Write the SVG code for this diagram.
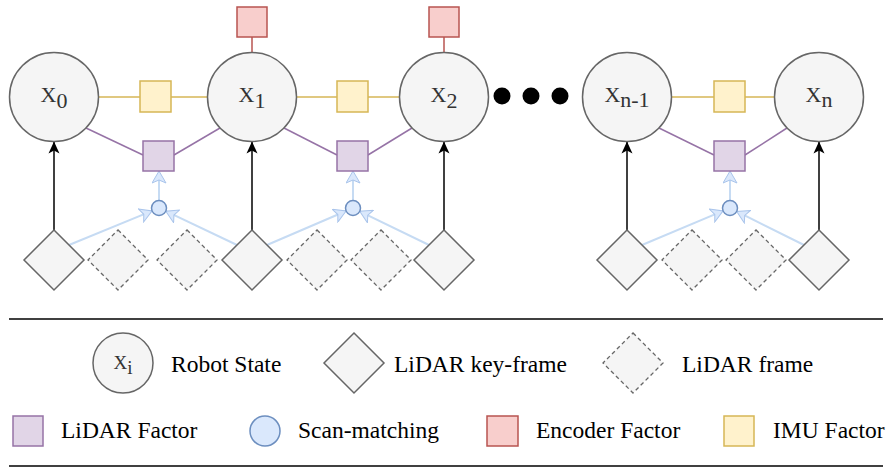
<svg xmlns="http://www.w3.org/2000/svg" width="887" height="468" viewBox="0 0 887 468">
<defs>
<style>
.state{fill:#f5f5f5;stroke:#666666;stroke-width:1.5}
.key{fill:#f5f5f5;stroke:#666666;stroke-width:1.5}
.frame{fill:#f5f5f5;stroke:#666666;stroke-width:1.3;stroke-dasharray:4 3}
.lidar{fill:#e1d5e7;stroke:#9673a6;stroke-width:1.5}
.imu{fill:#fff2cc;stroke:#d6b656;stroke-width:1.5}
.enc{fill:#f8cecc;stroke:#b85450;stroke-width:1.5}
.scan{fill:#dae8fc;stroke:#6c8ebf;stroke-width:1.5}
.lbl{font-family:"Liberation Serif","Times New Roman",serif;font-size:22px;fill:#333333;text-anchor:middle}
.leg{font-family:"Liberation Serif","Times New Roman",serif;font-size:23.5px;fill:#000000}
.blk{stroke:#000000;stroke-width:1.5;fill:none}
.blue{stroke:#c6dbf3;stroke-width:2;fill:none}
.pur{stroke:#9673a6;stroke-width:1.5;fill:none}
.yel{stroke:#d6b656;stroke-width:1.5;fill:none}
.red{stroke:#b85450;stroke-width:1.5;fill:none}
.sep{stroke:#000000;stroke-width:1.5}
</style>
<marker id="ah" markerUnits="userSpaceOnUse" viewBox="0 0 12 12" refX="12" refY="6" markerWidth="12" markerHeight="12" orient="auto">
<path d="M0,0.5 L12,6 L0,11.5 L3,6 Z" fill="#000000"/>
</marker>
<marker id="bh" markerUnits="userSpaceOnUse" viewBox="0 0 13 15" refX="12.5" refY="7.5" markerWidth="13" markerHeight="15" orient="auto">
<path d="M0.5,0.5 L12.5,7.5 L0.5,14.5 L3.5,7.5 Z" fill="#dae8fc" stroke="#a9c4eb" stroke-width="1"/>
</marker>
</defs>
<rect width="887" height="468" fill="#ffffff"/>

<g id="connectors">
<line class="yel" x1="99" y1="97" x2="140" y2="97"/>
<line class="yel" x1="171" y1="97" x2="207" y2="97"/>
<line class="yel" x1="297" y1="97" x2="337" y2="97"/>
<line class="yel" x1="368" y1="97" x2="399" y2="97"/>
<line class="yel" x1="672" y1="97" x2="714" y2="97"/>
<line class="yel" x1="745" y1="97" x2="774" y2="97"/>
<line class="red" x1="252" y1="37" x2="252" y2="52"/>
<line class="red" x1="444" y1="37" x2="444" y2="52"/>
<line class="pur" x1="86" y1="128" x2="143" y2="155"/>
<line class="pur" x1="174" y1="155" x2="220" y2="128"/>
<line class="pur" x1="284" y1="128" x2="337" y2="155"/>
<line class="pur" x1="368" y1="155" x2="412" y2="128"/>
<line class="pur" x1="659" y1="128" x2="714" y2="155"/>
<line class="pur" x1="745" y1="155" x2="787" y2="128"/>
<line class="blk" x1="54" y1="230" x2="54" y2="141.5" marker-end="url(#ah)"/>
<line class="blk" x1="252" y1="230" x2="252" y2="141.5" marker-end="url(#ah)"/>
<line class="blk" x1="444" y1="230" x2="444" y2="141.5" marker-end="url(#ah)"/>
<line class="blk" x1="627" y1="230" x2="627" y2="141.5" marker-end="url(#ah)"/>
<line class="blk" x1="819" y1="230" x2="819" y2="141.5" marker-end="url(#ah)"/>
<line class="blue" x1="69" y1="245" x2="152.1" y2="210.9" marker-end="url(#bh)"/>
<line class="blue" x1="237" y1="245" x2="165.8" y2="211.2" marker-end="url(#bh)"/>
<line class="blue" x1="267" y1="245" x2="346.1" y2="211" marker-end="url(#bh)"/>
<line class="blue" x1="429" y1="245" x2="359.7" y2="211.3" marker-end="url(#bh)"/>
<line class="blue" x1="642" y1="245" x2="723.1" y2="210.9" marker-end="url(#bh)"/>
<line class="blue" x1="804" y1="245" x2="736.7" y2="211.4" marker-end="url(#bh)"/>
<line class="blue" x1="159" y1="200.5" x2="159" y2="171" marker-end="url(#bh)"/>
<line class="blue" x1="353" y1="200.5" x2="353" y2="171" marker-end="url(#bh)"/>
<line class="blue" x1="730" y1="200.5" x2="730" y2="171" marker-end="url(#bh)"/>
</g>

<g id="x0"><circle class="state" cx="54" cy="97" r="44.5"/><text class="lbl" x="54" y="102">X<tspan dy="5.5">0</tspan></text></g>
<g id="x1"><circle class="state" cx="252" cy="97" r="44.5"/><text class="lbl" x="252" y="102">X<tspan dy="5.5">1</tspan></text></g>
<g id="x2"><circle class="state" cx="444" cy="97" r="44.5"/><text class="lbl" x="444" y="102">X<tspan dy="5.5">2</tspan></text></g>
<g id="xn1"><circle class="state" cx="627" cy="97" r="44.5"/><text class="lbl" x="627" y="102">X<tspan dy="5">n-1</tspan></text></g>
<g id="xn"><circle class="state" cx="819" cy="97" r="44.5"/><text class="lbl" x="819" y="102">X<tspan dy="5">n</tspan></text></g>

<g id="ellipsis" fill="#000000">
<circle cx="502" cy="96" r="8.5"/><circle cx="531" cy="96" r="8.5"/><circle cx="560" cy="96" r="8.5"/>
</g>

<g id="imu1"><rect class="imu" x="140" y="81" width="31" height="31"/></g>
<g id="imu2"><rect class="imu" x="337" y="81" width="31" height="31"/></g>
<g id="imu3"><rect class="imu" x="714" y="81" width="31" height="31"/></g>
<g id="enc1"><rect class="enc" x="237" y="7" width="30" height="30"/></g>
<g id="enc2"><rect class="enc" x="429" y="7" width="30" height="30"/></g>
<g id="lf1"><rect class="lidar" x="143" y="141" width="31" height="30"/></g>
<g id="lf2"><rect class="lidar" x="337" y="141" width="31" height="30"/></g>
<g id="lf3"><rect class="lidar" x="714" y="141" width="31" height="30"/></g>
<g id="sm1"><circle class="scan" cx="159" cy="208" r="7.5"/></g>
<g id="sm2"><circle class="scan" cx="353" cy="208" r="7.5"/></g>
<g id="sm3"><circle class="scan" cx="730" cy="208" r="7.5"/></g>

<g id="kf0"><path class="key" d="M54,230 L84,260 L54,290 L24,260 Z"/></g>
<g id="f01"><path class="frame" d="M118,230 L148,260 L118,290 L88,260 Z"/></g>
<g id="f02"><path class="frame" d="M187,230 L217,260 L187,290 L157,260 Z"/></g>
<g id="kf1"><path class="key" d="M252,230 L282,260 L252,290 L222,260 Z"/></g>
<g id="f11"><path class="frame" d="M317,230 L347,260 L317,290 L287,260 Z"/></g>
<g id="f12"><path class="frame" d="M381,230 L411,260 L381,290 L351,260 Z"/></g>
<g id="kf2"><path class="key" d="M444,230 L474,260 L444,290 L414,260 Z"/></g>
<g id="kfn1"><path class="key" d="M627,230 L657,260 L627,290 L597,260 Z"/></g>
<g id="fn1"><path class="frame" d="M692,230 L722,260 L692,290 L662,260 Z"/></g>
<g id="fn2"><path class="frame" d="M756,230 L786,260 L756,290 L726,260 Z"/></g>
<g id="kfn"><path class="key" d="M819,230 L849,260 L819,290 L789,260 Z"/></g>

<g id="legend">
<line class="sep" x1="9" y1="319" x2="883" y2="319"/>
<line class="sep" x1="9" y1="466" x2="883" y2="466"/>
<circle class="state" cx="123" cy="363" r="30"/>
<text x="123" y="369" style="font-family:'Liberation Serif','Times New Roman',serif;font-size:19px;fill:#333333;text-anchor:middle">X<tspan dy="5">i</tspan></text>
<text class="leg" x="171" y="372">Robot State</text>
<path class="key" d="M354,333 L384,363 L354,393 L324,363 Z"/>
<text class="leg" x="394" y="372">LiDAR key-frame</text>
<path class="frame" d="M633,333 L663,363 L633,393 L603,363 Z"/>
<text class="leg" x="682" y="372">LiDAR frame</text>
<rect class="lidar" x="13" y="416" width="30" height="30"/>
<text class="leg" x="61" y="438">LiDAR Factor</text>
<circle class="scan" cx="265" cy="431" r="15"/>
<text class="leg" x="298" y="438">Scan-matching</text>
<rect class="enc" x="487" y="416" width="31" height="30"/>
<text class="leg" x="536" y="438">Encoder Factor</text>
<rect class="imu" x="724" y="416" width="30" height="30"/>
<text class="leg" x="773" y="438">IMU Factor</text>
</g>
</svg>
